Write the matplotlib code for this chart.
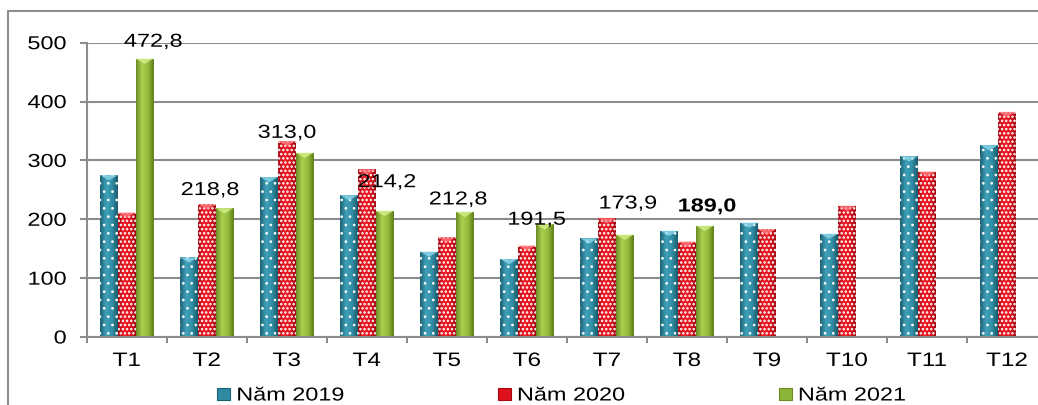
import numpy as np
import matplotlib
matplotlib.use("Agg")
import matplotlib.pyplot as plt
from matplotlib.colors import LinearSegmentedColormap
from matplotlib.patches import Patch, Polygon
from matplotlib.lines import Line2D
from matplotlib.patheffects import AbstractPathEffect
from matplotlib.transforms import Affine2D

# ---- data -------------------------------------------------------------
months = ["T1", "T2", "T3", "T4", "T5", "T6", "T7", "T8", "T9", "T10", "T11", "T12"]
series_names = ["Năm 2019", "Năm 2020", "Năm 2021"]
values_2019 = [275.0, 135.2, 271.8, 241.0, 145.0, 132.5, 167.6, 180.5, 194.3, 175.5, 307.2, 326.0]
values_2020 = [211.5, 225.2, 333.0, 284.8, 169.3, 155.4, 201.6, 162.2, 183.0, 223.0, 281.0, 382.5]
values_2021 = [472.8, 218.8, 313.0, 214.2, 212.8, 191.5, 173.9, 189.0]
y_ticks = [0, 100, 200, 300, 400, 500]

# label placement for the 2021 series (shift in categories, lift in units)
label_dx = [0.11, -0.18, -0.22, 0.03, -0.08, -0.10, 0.04, 0.03]
label_dy = [28, 30, 33, 48, 20, 7, 52, 32]
label_bold = [False, False, False, False, False, False, False, True]

# ---- style ------------------------------------------------------------
FONT = "Liberation Sans"
WIDEN = 1.25
GRAY = "#8c8c8c"

styles = [
    dict(grad=["#1c6273", "#3fa0b8", "#3290a8", "#1a5a6a"], mid="#2f8aa2",
         top="#8fd8ec", hatch="..", hatch_lw=0.7),
    dict(grad=["#a80812", "#ee1b26", "#e0121d", "#9e0710"], mid="#dd111c",
         top="#ff7a80", hatch="....", hatch_lw=1.2),
    dict(grad=["#6b8b22", "#a8cf4e", "#95bd3c", "#5f7e1c"], mid="#8db53a",
         top="#d4ef8a", hatch=None, hatch_lw=1.0),
]


class Widen(AbstractPathEffect):
    """Draw text glyphs stretched horizontally about an anchor."""

    def __init__(self, sx, anchor="center"):
        super().__init__()
        self.sx = sx
        self.anchor = anchor

    def draw_path(self, renderer, gc, tpath, affine, rgbFace=None):
        ext = tpath.get_extents()
        if self.anchor == "center":
            cx = 0.5 * (ext.x0 + ext.x1)
        elif self.anchor == "right":
            cx = ext.x1
        else:
            cx = ext.x0
        stretch = Affine2D().translate(-cx, 0).scale(self.sx, 1).translate(cx, 0)
        renderer.draw_path(gc, tpath, stretch + affine, rgbFace)


W, H = 1038, 405
fig = plt.figure(figsize=(W / 100, H / 100), dpi=100)
ax = fig.add_axes([86.7 / W, 68 / H, 960.3 / W, 294.3 / H])

n = len(months)
x = np.arange(n)
bw = 0.222
offsets = [-bw, 0.0, bw]
all_values = [values_2019, values_2020, values_2021]

grad_img = np.linspace(0, 1, 64).reshape(1, -1)
for s, (vals, st) in enumerate(zip(all_values, styles)):
    cmap = LinearSegmentedColormap.from_list(f"g{s}", st["grad"])
    xs = x[: len(vals)] + offsets[s]
    bars = ax.bar(xs, vals, width=bw, color="none", linewidth=0, zorder=2)
    for b, v in zip(bars, vals):
        x0 = b.get_x()
        x1 = x0 + b.get_width()
        im = ax.imshow(grad_img, cmap=cmap, extent=(x0, x1, 0, v),
                       aspect="auto", zorder=2, interpolation="bilinear")
        im.set_clip_path(b)
        # bevelled top
        tri = Polygon([[x0, v], [x1, v], [0.5 * (x0 + x1), v - 9]],
                      closed=True, facecolor=st["top"], edgecolor="none",
                      alpha=0.8, zorder=2.3)
        ax.add_patch(tri)
    if st["hatch"]:
        plt.rcParams["hatch.linewidth"] = st["hatch_lw"]
        ax.bar(xs, vals, width=bw, facecolor="none", edgecolor="white",
               linewidth=0, hatch=st["hatch"], zorder=2.2)

# value labels on the 2021 series
for i, v in enumerate(values_2021):
    txt = f"{v:.1f}".replace(".", ",")
    t = ax.text(x[i] + offsets[2] + label_dx[i], v + label_dy[i], txt,
                ha="center", va="center", fontsize=13.5, family=FONT,
                fontweight="bold" if label_bold[i] else "normal",
                color="black", zorder=5)
    t.set_path_effects([Widen(WIDEN, "center")])

# ---- axes -------------------------------------------------------------
ax.set_xlim(-0.5, n - 0.5)
ax.set_ylim(0, 500)
ax.set_yticks(y_ticks)
ax.set_yticklabels([str(v) for v in y_ticks])
ax.set_xticks(x)
ax.set_xticklabels(months)
ax.set_xticks(np.arange(n + 1) - 0.5, minor=True)

ax.yaxis.grid(True, color=GRAY, linewidth=1.5, zorder=0)
ax.set_axisbelow(True)
for side in ("top", "right"):
    ax.spines[side].set_visible(False)
for side in ("left", "bottom"):
    ax.spines[side].set_color(GRAY)
    ax.spines[side].set_linewidth(1.5)

ax.tick_params(axis="y", length=5, width=1.5, color=GRAY, pad=9.5,
               labelsize=13.5)
ax.tick_params(axis="x", which="major", length=0, pad=11.5, labelsize=14)
ax.tick_params(axis="x", which="minor", length=4.5, width=1.5, color=GRAY)

for t in ax.get_yticklabels():
    t.set_family(FONT)
    t.set_path_effects([Widen(WIDEN, "right")])
for t in ax.get_xticklabels():
    t.set_family(FONT)
    t.set_path_effects([Widen(WIDEN, "center")])

# ---- legend -----------------------------------------------------------
handles = [Patch(facecolor=st["mid"], edgecolor=st["grad"][0], linewidth=0.8)
           for st in styles]
leg = fig.legend(handles, series_names, loc="center",
                 bbox_to_anchor=(551 / W, 1 - 396 / H), ncol=3, frameon=False,
                 prop={"family": FONT, "size": 13.5}, handlelength=0.7,
                 handleheight=0.6, handletextpad=0.35, columnspacing=9.3,
                 borderpad=0)
for t in leg.get_texts():
    t.set_path_effects([Widen(WIDEN, "left")])

# chart-area border
fig.add_artist(Line2D([8 / W, 8 / W, 1.05], [-0.05, 1 - 10.7 / H, 1 - 10.7 / H],
                      color=GRAY, linewidth=1.5))

fig.savefig("out.png", dpi=100)
